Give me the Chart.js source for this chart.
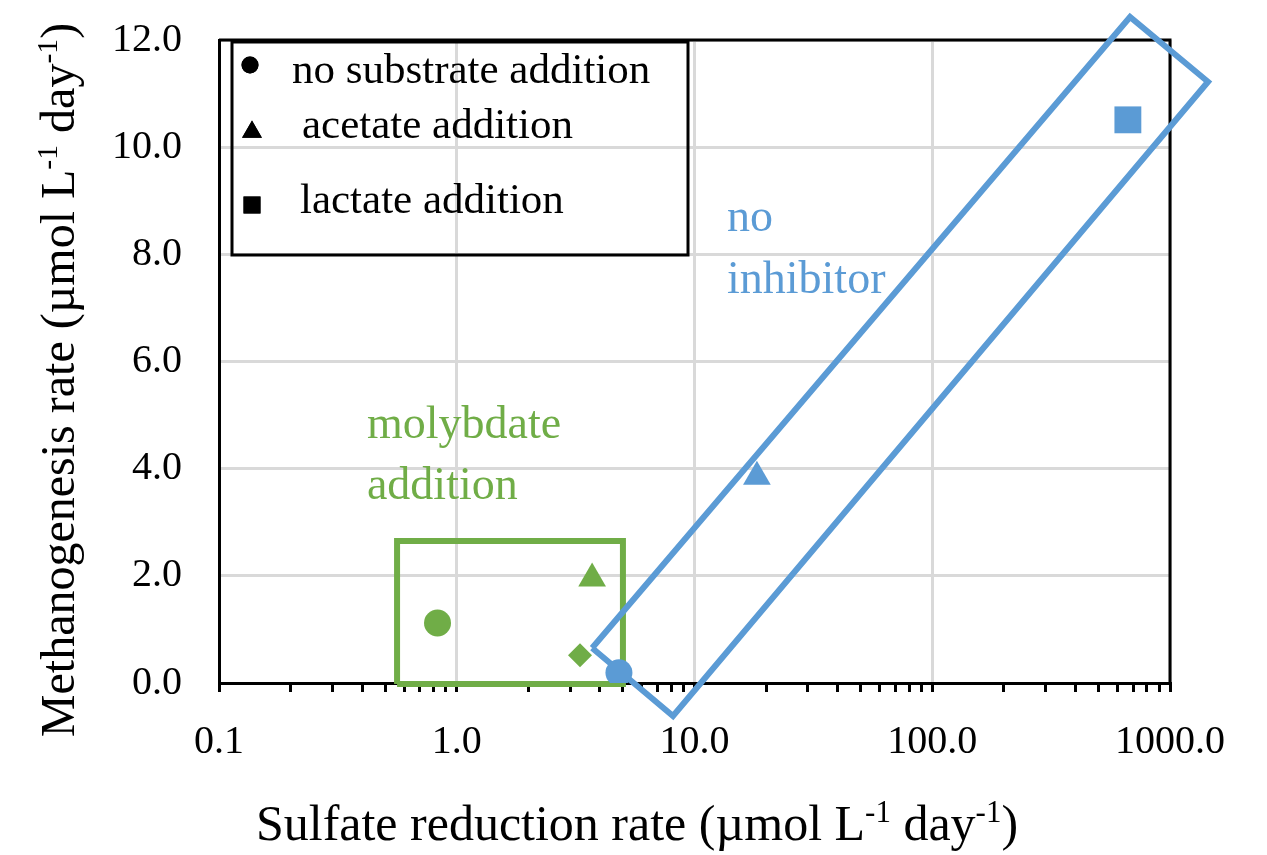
<!DOCTYPE html>
<html>
<head>
<meta charset="utf-8">
<script src="https://cdn.jsdelivr.net/npm/chart.js@4.4.0/dist/chart.umd.min.js"></script>
<style>
    html, body { margin: 0; padding: 0; background: #fff; }
</style>
</head>
<body>
<canvas id="scatter-chart" width="1267" height="855"></canvas>
<script>
var legendLabels = ["no substrate addition", "acetate addition", "lactate addition"];
var legendShapes = ["circle", "triangle", "rect"];

// molybdate addition (green)
var molyX = [0.83, 3.71, 3.30];
var molyY = [1.12, 1.95, 0.52];
var molyShapes = ["circle", "triangle", "rectRot"];

// no inhibitor (blue)
var noInhX = [4.81, 18.3, 665];
var noInhY = [0.19, 3.85, 10.51];
var noInhShapes = ["circle", "triangle", "rect"];

// outlines drawn round the two groups
var molyBoxX = [0.561, 5.00, 5.00, 0.561, 0.561];
var molyBoxY = [-0.02, -0.02, 2.65, 2.65, -0.02];
var noInhBoxX = [3.71, 8.12, 1445, 679, 3.71];
var noInhBoxY = [0.653, -0.616, 11.22, 12.43, 0.653];

var xTicks = [0.1, 1, 10, 100, 1000];
var xTickLabels = ["0.1", "1.0", "10.0", "100.0", "1000.0"];
var yTicks = [0, 2, 4, 6, 8, 10, 12];

var GREEN = "#70ad47";
var BLUE = "#5b9bd5";
var FONT = "'Liberation Serif', 'Times New Roman', serif";
var markerSize = { circle: 13.5, triangle: 16, rect: 19, rectRot: 12 };

function toPoints(xs, ys) {
    var pts = [];
    for (var i = 0; i < xs.length; i++) {
        pts.push({ x: xs[i], y: ys[i] });
    }
    return pts;
}

// minor tick marks at 2..9 of every decade
var allXTicks = [];
for (var d = 0; d < xTicks.length; d++) {
    allXTicks.push(xTicks[d]);
    if (d < xTicks.length - 1) {
        for (var m = 2; m <= 9; m++) {
            allXTicks.push(parseFloat((xTicks[d] * m).toPrecision(3)));
        }
    }
}

function isDecade(v) {
    return xTicks.indexOf(v) !== -1;
}

function drawRich(ctx, parts, x, y, size) {
    var total = 0;
    for (var i = 0; i < parts.length; i++) {
        ctx.font = (parts[i].sup ? size * 0.62 : size) + "px " + FONT;
        parts[i].w = ctx.measureText(parts[i].t).width;
        total += parts[i].w;
    }
    var cx = x - total / 2;
    for (var j = 0; j < parts.length; j++) {
        ctx.font = (parts[j].sup ? size * 0.62 : size) + "px " + FONT;
        ctx.fillText(parts[j].t, cx, parts[j].sup ? y - size * 0.36 : y);
        cx += parts[j].w;
    }
}

var frameAndText = {
    id: "frameAndText",
    beforeDatasetsDraw: function(chart) {
        var ctx = chart.ctx;
        var a = chart.chartArea;
        ctx.save();
        ctx.strokeStyle = "#000";
        ctx.lineWidth = 3;
        ctx.beginPath();
        ctx.moveTo(a.left, a.top);
        ctx.lineTo(a.right, a.top);
        ctx.lineTo(a.right, a.bottom);
        ctx.stroke();
        ctx.restore();
    },
    afterDatasetsDraw: function(chart) {
        var ctx = chart.ctx;
        var a = chart.chartArea;
        var xs = chart.scales.x;
        var ys = chart.scales.y;
        ctx.save();

        // legend box
        ctx.strokeStyle = "#000";
        ctx.lineWidth = 3;
        ctx.strokeRect(a.left + 13, a.top + 2, 456, 213);
        var markX = [250, 252, 252];
        var markY = [65, 132, 205];
        var textX = [292, 302, 300];
        var textY = [83, 138, 213];
        var legSize = { circle: 8.5, triangle: 11.5, rect: 12 };
        ctx.fillStyle = "#000";
        ctx.font = "43px " + FONT;
        ctx.textBaseline = "alphabetic";
        for (var i = 0; i < legendLabels.length; i++) {
            Chart.helpers.drawPoint(ctx, {
                pointStyle: legendShapes[i],
                radius: legSize[legendShapes[i]],
                borderWidth: 0
            }, markX[i], markY[i]);
            ctx.fillStyle = "#000";
            ctx.fill();
            ctx.fillText(legendLabels[i], textX[i], textY[i]);
        }

        // group names
        ctx.font = "46px " + FONT;
        ctx.fillStyle = BLUE;
        var bx = xs.getPixelForValue(13.7), by = ys.getPixelForValue(8.44);
        ctx.fillText("no", bx, by);
        ctx.fillText("inhibitor", bx, by + 62);
        ctx.fillStyle = GREEN;
        var gx = xs.getPixelForValue(0.419), gy = ys.getPixelForValue(4.57);
        ctx.fillText("molybdate", gx, gy);
        ctx.fillText("addition", gx, gy + 61);

        // axis titles
        ctx.fillStyle = "#000";
        drawRich(ctx, [
            { t: "Sulfate reduction rate (\u00b5mol L" }, { t: "-1", sup: true },
            { t: " day" }, { t: "-1", sup: true }, { t: ")" }
        ], 637, 840, 50);
        ctx.translate(74, 380);
        ctx.rotate(-Math.PI / 2);
        drawRich(ctx, [
            { t: "Methanogenesis rate (\u00b5mol L" }, { t: "-1", sup: true },
            { t: " day" }, { t: "-1", sup: true }, { t: ")" }
        ], 0, 0, 48);
        ctx.restore();
    }
};

var ctx = document.getElementById("scatter-chart");

var data = {
    datasets: [
        {
            label: "no inhibitor",
            data: toPoints(noInhX, noInhY),
            pointStyle: noInhShapes,
            pointRadius: noInhShapes.map(function(s) { return markerSize[s]; }),
            backgroundColor: BLUE,
            borderColor: BLUE,
            borderWidth: 0,
            showLine: false
        },
        {
            label: "molybdate addition",
            data: toPoints(molyX, molyY),
            pointStyle: molyShapes,
            pointRadius: molyShapes.map(function(s) { return markerSize[s]; }),
            backgroundColor: GREEN,
            borderColor: GREEN,
            borderWidth: 0,
            showLine: false
        },
        {
            label: "no inhibitor box",
            data: toPoints(noInhBoxX, noInhBoxY),
            showLine: true,
            borderColor: BLUE,
            borderWidth: 6,
            pointRadius: 0,
            fill: false,
            tension: 0,
            clip: false,
            borderJoinStyle: "miter"
        },
        {
            label: "molybdate box",
            data: toPoints(molyBoxX, molyBoxY),
            showLine: true,
            borderColor: GREEN,
            borderWidth: 6,
            pointRadius: 0,
            fill: false,
            tension: 0,
            clip: false,
            borderJoinStyle: "miter"
        }
    ]
};

var chart = new Chart(ctx, {
    type: "scatter",
    data: data,
    plugins: [frameAndText],
    options: {
        responsive: false,
        animation: false,
        devicePixelRatio: 1,
        events: [],
        layout: { padding: { top: 40, right: 97, left: 0, bottom: 0 } },
        plugins: {
            legend: { display: false },
            tooltip: { enabled: false }
        },
        scales: {
            x: {
                type: "logarithmic",
                min: 0.1,
                max: 1000,
                afterFit: function(s) {
                    s.height = 172;
                    s.paddingLeft = 0;
                    s.paddingRight = 0;
                },
                afterBuildTicks: function(s) {
                    s.ticks = allXTicks.map(function(v) { return { value: v }; });
                },
                grid: {
                    color: function(c) { return isDecade(c.tick.value) ? "#d9d9d9" : "rgba(0,0,0,0)"; },
                    lineWidth: 3,
                    tickColor: "#000",
                    tickLength: 9,
                    tickWidth: 3
                },
                border: { color: "#000", width: 3 },
                ticks: {
                    autoSkip: false,
                    maxRotation: 0,
                    padding: 26,
                    color: "#000",
                    font: { family: FONT, size: 40 },
                    callback: function(v) {
                        var k = xTicks.indexOf(v);
                        return k === -1 ? "" : xTickLabels[k];
                    }
                }
            },
            y: {
                min: 0,
                max: 12,
                afterFit: function(s) {
                    s.width = 219;
                    s.paddingTop = 0;
                    s.paddingBottom = 0;
                },
                afterBuildTicks: function(s) {
                    s.ticks = yTicks.map(function(v) { return { value: v }; });
                },
                grid: {
                    color: "#d9d9d9",
                    lineWidth: 3,
                    drawTicks: false
                },
                border: { color: "#000", width: 3 },
                ticks: {
                    padding: 37,
                    color: "#000",
                    font: { family: FONT, size: 40 },
                    callback: function(v) { return v.toFixed(1); }
                }
            }
        }
    }
});
</script>
</body>
</html>
